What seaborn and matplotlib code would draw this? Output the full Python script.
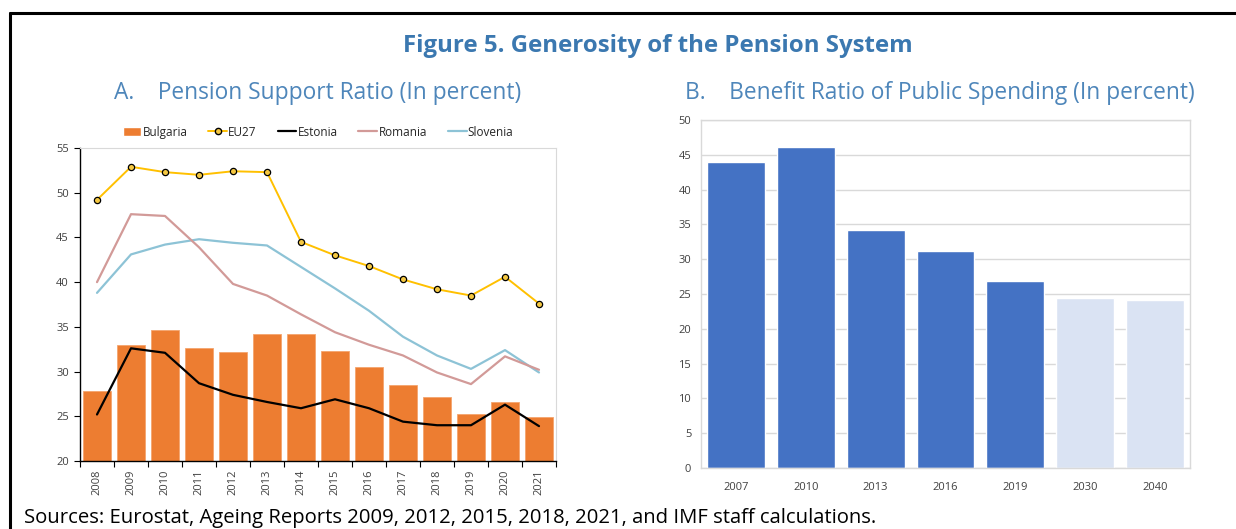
import numpy as np
import pandas as pd
import matplotlib
matplotlib.use("Agg")
import matplotlib.pyplot as plt
import seaborn as sns
from matplotlib.lines import Line2D
from matplotlib.patches import Patch

# ---------------- data ----------------
years_a = ["2008", "2009", "2010", "2011", "2012", "2013", "2014",
           "2015", "2016", "2017", "2018", "2019", "2020", "2021"]
bulgaria = [27.8, 33.0, 34.7, 32.6, 32.2, 34.2, 34.2, 32.3, 30.5, 28.5, 27.2, 25.3, 26.6, 24.9]
eu27 = [49.2, 52.9, 52.3, 52.0, 52.4, 52.3, 44.5, 43.0, 41.8, 40.3, 39.2, 38.5, 40.6, 37.6]
estonia = [25.2, 32.6, 32.1, 28.7, 27.4, 26.6, 25.9, 26.9, 25.9, 24.4, 24.0, 24.0, 26.3, 23.9]
romania = [40.0, 47.6, 47.4, 43.9, 39.8, 38.5, 36.4, 34.4, 33.0, 31.8, 29.9, 28.6, 31.7, 30.2]
slovenia = [38.8, 43.1, 44.2, 44.8, 44.4, 44.1, 41.7, 39.3, 36.8, 33.9, 31.8, 30.3, 32.4, 29.9]

years_b = ["2007", "2010", "2013", "2016", "2019", "2030", "2040"]
benefit_ratio = [44.0, 46.1, 34.2, 31.2, 26.8, 24.4, 24.1]
benefit_kind = ["Actual", "Actual", "Actual", "Actual", "Actual", "Projection", "Projection"]

title = "Figure 5. Generosity of the Pension System"
sub_a = "A.    Pension Support Ratio (In percent)"
sub_b = "B.    Benefit Ratio of Public Spending (In percent)"
source = "Sources: Eurostat, Ageing Reports 2009, 2012, 2015, 2018, 2021, and IMF staff calculations."

# ---------------- style ----------------
sns.set_theme(style="white")
plt.rcParams["font.family"] = ["Open Sans", "DejaVu Sans"]

C_BG = "#ED7D31"
C_EU = "#FFC000"
C_EE = "#000000"
C_RO = "#D29A98"
C_SI = "#8DC3D6"
C_HIST = "#4472C4"
C_PROJ = "#DAE3F3"
C_TITLE = "#3B78B0"
C_SUB = "#4E86BA"
TICK_C = "#404040"

W, H = 1236, 529
fig = plt.figure(figsize=(W / 100, H / 100), dpi=100)

def fx(px):
    return px / W

def fy(py):
    return 1 - py / H

# ---------------- panel A ----------------
axA = fig.add_axes([fx(80), fy(461), fx(556) - fx(80), fy(148) - fy(461)])
idx = np.arange(len(years_a))
dfA = pd.DataFrame({"year": years_a, "Bulgaria": bulgaria, "pos": idx,
                    "EU27": eu27, "Estonia": estonia, "Romania": romania,
                    "Slovenia": slovenia})
sns.barplot(data=dfA, x="year", y="Bulgaria", color=C_BG, saturation=1,
            width=0.83, ax=axA, edgecolor="#F4A56E", linewidth=0.6)
sns.lineplot(data=dfA, x="pos", y="Slovenia", color=C_SI, lw=1.6, ax=axA)
sns.lineplot(data=dfA, x="pos", y="Romania", color=C_RO, lw=1.6, ax=axA)
sns.lineplot(data=dfA, x="pos", y="Estonia", color=C_EE, lw=1.6, ax=axA)
sns.lineplot(data=dfA, x="pos", y="EU27", color=C_EU, lw=1.4, ax=axA,
             marker="o", markersize=4.5, markerfacecolor="#F5C842",
             markeredgecolor="black", markeredgewidth=0.9)
axA.set_xlim(-0.5, len(years_a) - 0.5)
axA.set_ylim(20, 55)
axA.set_yticks(np.arange(20, 56, 5))
axA.set_xticks(idx)
axA.set_xticklabels(years_a, rotation=90)
axA.set_xticks(np.arange(-0.5, len(years_a), 1), minor=True)
axA.tick_params(axis="x", which="major", length=0, labelsize=8, colors=TICK_C, pad=6)
axA.tick_params(axis="x", which="minor", length=4, width=0.8, color="black", direction="out", bottom=True)
axA.tick_params(axis="y", length=4, width=0.8, color="black", direction="out", left=True,
                labelsize=8, labelcolor=TICK_C, pad=4)
axA.set_xlabel("")
axA.set_ylabel("")
for s in ["left", "bottom"]:
    axA.spines[s].set_color("black")
    axA.spines[s].set_linewidth(1.0)
for s in ["top", "right"]:
    axA.spines[s].set_color("#D9D9D9")
    axA.spines[s].set_linewidth(0.8)

handles = [
    Patch(facecolor=C_BG, label="Bulgaria"),
    Line2D([], [], color=C_EU, marker="o", markerfacecolor="#F5C842",
           markeredgecolor="black", markersize=4.5, lw=1.4, label="EU27"),
    Line2D([], [], color=C_EE, lw=1.6, label="Estonia"),
    Line2D([], [], color=C_RO, lw=1.6, label="Romania"),
    Line2D([], [], color=C_SI, lw=1.6, label="Slovenia"),
]
leg = axA.legend(handles=handles, ncol=5, loc="lower center",
                 bbox_to_anchor=(0.5, 1.0), frameon=False, fontsize=8.5,
                 handlelength=1.6, handletextpad=0.1, columnspacing=1.75,
                 borderaxespad=0.4)
for t in leg.get_texts():
    t.set_color("#262626")

# ---------------- panel B ----------------
axB = fig.add_axes([fx(701), fy(468), fx(1190) - fx(701), fy(120) - fy(468)])
dfB = pd.DataFrame({"year": years_b, "value": benefit_ratio, "kind": benefit_kind})
sns.barplot(data=dfB, x="year", y="value", hue="kind",
            palette={"Actual": C_HIST, "Projection": C_PROJ},
            dodge=False, legend=False, saturation=1, width=0.83, ax=axB)
axB.set_ylim(0, 50)
axB.set_yticks(np.arange(0, 51, 5))
axB.yaxis.grid(True, color="#D9D9D9", lw=1)
axB.set_axisbelow(True)
axB.tick_params(axis="both", length=0, labelsize=8, colors=TICK_C)
axB.tick_params(axis="x", pad=10)
axB.tick_params(axis="y", pad=7)
axB.set_xlabel("")
axB.set_ylabel("")
for s in axB.spines.values():
    s.set_color("#D9D9D9")
    s.set_linewidth(1.0)

# ---------------- texts ----------------
fig.text(fx(658), fy(46), title, ha="center", va="center", fontsize=17.3,
         fontweight="bold", color=C_TITLE)
fig.text(fx(318), fy(93), sub_a, ha="center", va="center", fontsize=16.4, color=C_SUB)
fig.text(fx(940), fy(93), sub_b, ha="center", va="center", fontsize=16.4, color=C_SUB)
fig.text(fx(24), fy(518), source, ha="left", va="center", fontsize=14.6, color="black")

# frame lines
fig.add_artist(Line2D([fx(10), 1], [fy(13), fy(13)], color="black", lw=2.2,
                      transform=fig.transFigure))
fig.add_artist(Line2D([fx(10), fx(10)], [fy(13), 0], color="black", lw=2.2,
                      transform=fig.transFigure))

fig.savefig("out.png", dpi=100, facecolor="white")
